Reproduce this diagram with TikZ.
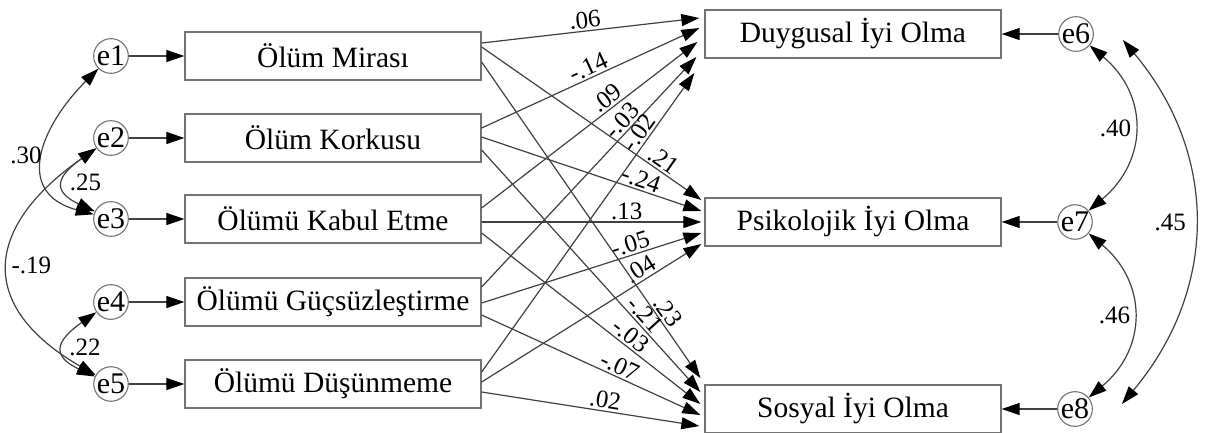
\documentclass[tikz,border=0pt]{standalone}
\usepackage{fontspec}
\setmainfont{Liberation Serif}
\usetikzlibrary{arrows.meta,calc}
\begin{document}
\begin{tikzpicture}[x=1pt,y=-1pt,
  box/.style={draw=black!55,line width=1.3pt,minimum width=296pt,minimum height=48pt,inner sep=0pt,font=\fontsize{29.5}{32}\selectfont},
  err/.style={circle,draw=black!55,line width=1.1pt,minimum size=34pt,inner sep=0pt,font=\fontsize{30}{30}\selectfont},
  head/.tip={Triangle[length=18pt,width=12pt,color=black]},
  path/.style={draw=black!75,line width=1.2pt,-head},
  cov/.style={draw=black!75,line width=1.2pt,head-head},
  coef/.style={font=\fontsize{25}{27}\selectfont,inner sep=2pt},
]
\useasboundingbox (0,0) rectangle (1207,432);

% exogenous variables and their residuals
\node[box] (b1) at (333,56)  {Ölüm Mirası};
\node[box] (b2) at (333,138) {Ölüm Korkusu};
\node[box] (b3) at (333,219) {Ölümü Kabul Etme};
\node[box] (b4) at (333,302) {Ölümü Güçsüzleştirme};
\node[box] (b5) at (333,384) {Ölümü Düşünmeme};
\node[err] (e1) at (111,56)  {e1};
\node[err] (e2) at (111,138) {e2};
\node[err] (e3) at (111,219) {e3};
\node[err] (e4) at (111,302) {e4};
\node[err] (e5) at (111,384) {e5};

% outcome variables and their residuals
\node[box] (d1) at (853,34)  {Duygusal İyi Olma};
\node[box] (d2) at (853,222) {Psikolojik İyi Olma};
\node[box] (d3) at (853,409) {Sosyal İyi Olma};
\node[err,minimum size=32pt] (e6) at (1076,34)  {e6};
\node[err,minimum size=32pt] (e7) at (1075,222) {e7};
\node[err,minimum size=32pt] (e8) at (1075,409) {e8};

% residual arrows
\foreach \i in {1,...,5} \draw[path] (e\i) -- (b\i);
\draw[path] (e6) -- (d1);
\draw[path] (e7) -- (d2);
\draw[path] (e8) -- (d3);

% paths to Duygusal Iyi Olma
\draw[path] ($(b1.east)+(0,-13)$) -- node[coef,sloped,above,pos=.48]{.06}  ($(d1.west)+(-5,-16)$);
\draw[path] ($(b2.east)+(0,-10)$) -- node[coef,sloped,above,pos=.51]{-.14} ($(d1.west)+(-5,-6)$);
\draw[path] ($(b3.east)+(0,-11)$) -- node[coef,sloped,above,pos=.61]{.09}  ($(d1.west)+(-7,8)$);
\draw[path] ($(b4.east)+(0,-15)$) -- node[coef,sloped,above,pos=.69]{-.03} ($(d1.west)+(-8,23)$);
\draw[path] ($(b5.east)+(0,-12)$) -- node[coef,sloped,above,pos=.78]{-.02} ($(d1.west)+(-10,39)$);

% paths to Psikolojik Iyi Olma
\draw[path] ($(b1.east)+(0,-9)$)  -- node[coef,sloped,above,pos=.80]{.21}  ($(d2.west)+(-3,-22)$);
\draw[path] ($(b2.east)+(0,-1)$)  -- node[coef,sloped,above,pos=.71]{-.24} ($(d2.west)+(-3,-11)$);
\draw[path] ($(b3.east)+(0,3)$)   -- node[coef,sloped,above,pos=.66]{.13}  ($(d2.west)+(-3,0)$);
\draw[path] ($(b4.east)+(0,1)$)   -- node[coef,sloped,above,pos=.69]{-.05} ($(d2.west)+(-3,11)$);
\draw[path] ($(b5.east)+(0,-2)$)  -- node[coef,sloped,above,pos=.75]{.04}  ($(d2.west)+(-3,22)$);

% paths to Sosyal Iyi Olma
\draw[path] ($(b1.east)+(0,6)$)   -- node[coef,sloped,above,pos=.81]{.23}  ($(d3.west)+(-4,-31)$);
\draw[path] ($(b2.east)+(0,12)$)  -- node[coef,sloped,above,pos=.71]{-.21} ($(d3.west)+(-4,-17)$);
\draw[path] ($(b3.east)+(0,14)$)  -- node[coef,sloped,above,pos=.65]{-.03} ($(d3.west)+(-4,-5)$);
\draw[path] ($(b4.east)+(0,13)$)  -- node[coef,sloped,above,pos=.61]{-.07} ($(d3.west)+(-4,6)$);
\draw[path] ($(b5.east)+(0,8)$)   -- node[coef,sloped,above,pos=.56]{.02}  ($(d3.west)+(-5,17)$);

% covariances among the predictors' residuals
\draw[cov] (e1) to[out=225,in=165,looseness=1.45] node[coef,left,pos=.5]{.30} (e3);
\draw[cov] (e2) to[out=215,in=155,looseness=1.95] node[coef,right,pos=.5,xshift=3pt]{.25} (e3);
\draw[cov] (e2) to[out=215,in=150,looseness=1.55] node[coef,right,pos=.5]{-.19} (e5);
\draw[cov] (e4) to[out=215,in=155,looseness=1.95] node[coef,right,pos=.5,xshift=3pt]{.22} (e5);

% covariances among the outcomes' residuals
\coordinate (a6) at ($(e6.east)+(29,6)$);
\coordinate (a8) at ($(e8.east)+(29,-5)$);
\draw[cov] (e6) to[out=-40,in=40,looseness=1.2] node[coef,left,pos=.5]{.40} (e7);
\draw[cov] (e7) to[out=-40,in=40,looseness=1.2] node[coef,left,pos=.5]{.46} (e8);
\draw[cov] (a6) to[out=-50,in=50,looseness=1.05] node[coef,left,pos=.5,xshift=-6pt]{.45} (a8);
\end{tikzpicture}
\end{document}
